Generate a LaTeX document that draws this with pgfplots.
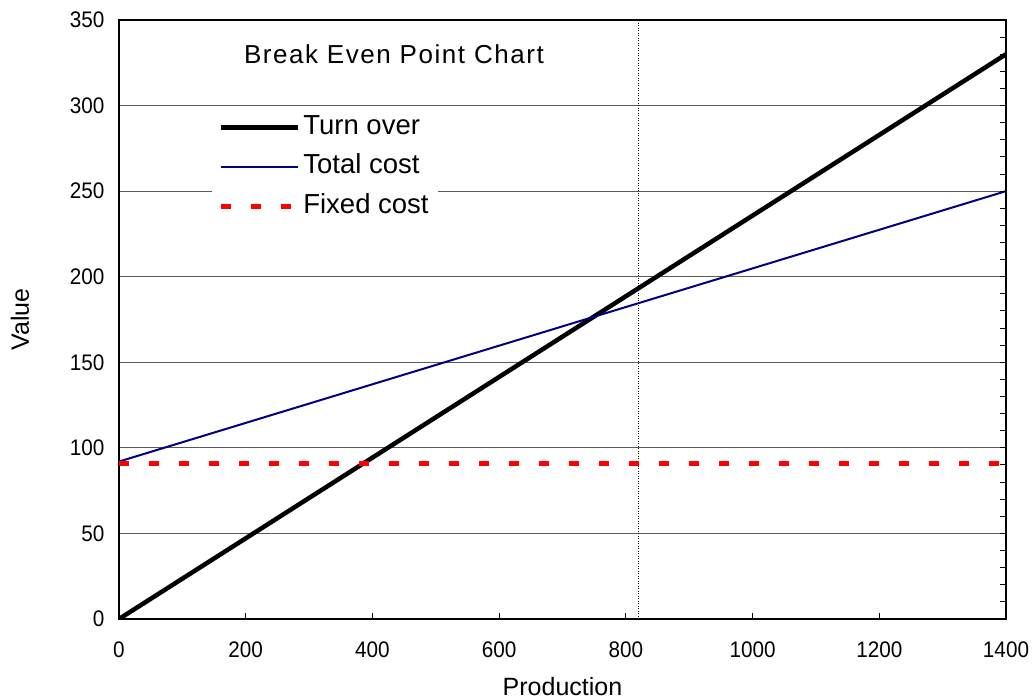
\documentclass[border=0pt]{standalone}
\usepackage{pgfplots}
\pgfplotsset{compat=1.18}
\usepackage{fontspec}
\setmainfont{Liberation Sans}
\newfontfamily\titlefont[LetterSpace=6]{Liberation Sans}
\newfontfamily\tickfont[FakeStretch=0.92]{Liberation Sans}
\definecolor{navy}{RGB}{0,0,128}
\definecolor{gridgray}{RGB}{90,90,90}
\begin{document}
\begin{tikzpicture}
\pgfplotsset{
  common/.style={
    scale only axis, width=887pt, height=599pt,
    at={(0pt,0pt)}, anchor=south west,
    xmin=0, xmax=1400, ymin=0, ymax=350,
  }
}
\begin{axis}[common,
  xtick={0,200,...,1400}, ytick={0,50,...,350},
  xtick pos=bottom, ytick pos=left,
  tick align=inside,
  major tick length=6pt,
  x tick style={line width=1pt, black},
  y tick style={draw=none},
  ymajorgrids, grid style={gridgray, line width=1pt},
  axis line style={line width=2.5pt},
  tick label style={font=\tickfont\fontsize{22.5}{26}\selectfont},
  /pgf/number format/assume math mode=true,
  /pgf/number format/1000 sep={},
  xticklabel style={yshift=-19pt},
  yticklabel style={xshift=-11pt},
  xlabel={Production}, ylabel={Value},
  label style={font=\fontsize{25}{30}\selectfont},
  xlabel style={at={(axis description cs:0.5,-0.112)}, anchor=center},
  ylabel style={at={(axis description cs:-0.1116,0.5)}, anchor=center},
  legend style={at={(rel axis cs:0.105,0.853)}, anchor=north west, draw=none, fill=white,
    font=\fontsize{27.5}{33}\selectfont, inner xsep=6pt, inner ysep=3pt,
    nodes={inner sep=3pt, text height=20pt, text depth=6pt},
    row sep=7.5pt},
  legend cell align=left,
  legend image code/.code={\draw[#1] (0pt,0pt) -- (77pt,0pt);},
]
\addplot[black, line width=1pt, dash pattern=on 1pt off 1.5pt, forget plot] coordinates {(820,0)(820,350)};
\addplot[black, line width=4.5pt] coordinates {(0,0)(1400,330)};
\addlegendentry{Turn over}
\addplot[navy, line width=2pt] coordinates {(0,92)(1400,250)};
\addlegendentry{Total cost}
\addplot[red, line width=5pt, dash pattern=on 10pt off 20pt] coordinates {(0,91)(1400,91)};
\addlegendentry{Fixed cost}
\node[font=\titlefont\fontsize{26}{30}\selectfont] at (rel axis cs:0.31,0.943) {Break Even Point Chart};
\end{axis}
\begin{axis}[common,
  hide x axis, axis y line*=right, axis line style={draw=none},
  ytick={0,50,...,350}, minor y tick num=4, yticklabels={},
  tick align=inside, major tick length=6pt, minor tick length=6pt,
  y tick style={line width=1pt, black},
]
\end{axis}
\pgfresetboundingbox
\path[use as bounding box] (-119pt,-80pt) rectangle (913pt,619pt);
\end{tikzpicture}
\end{document}
